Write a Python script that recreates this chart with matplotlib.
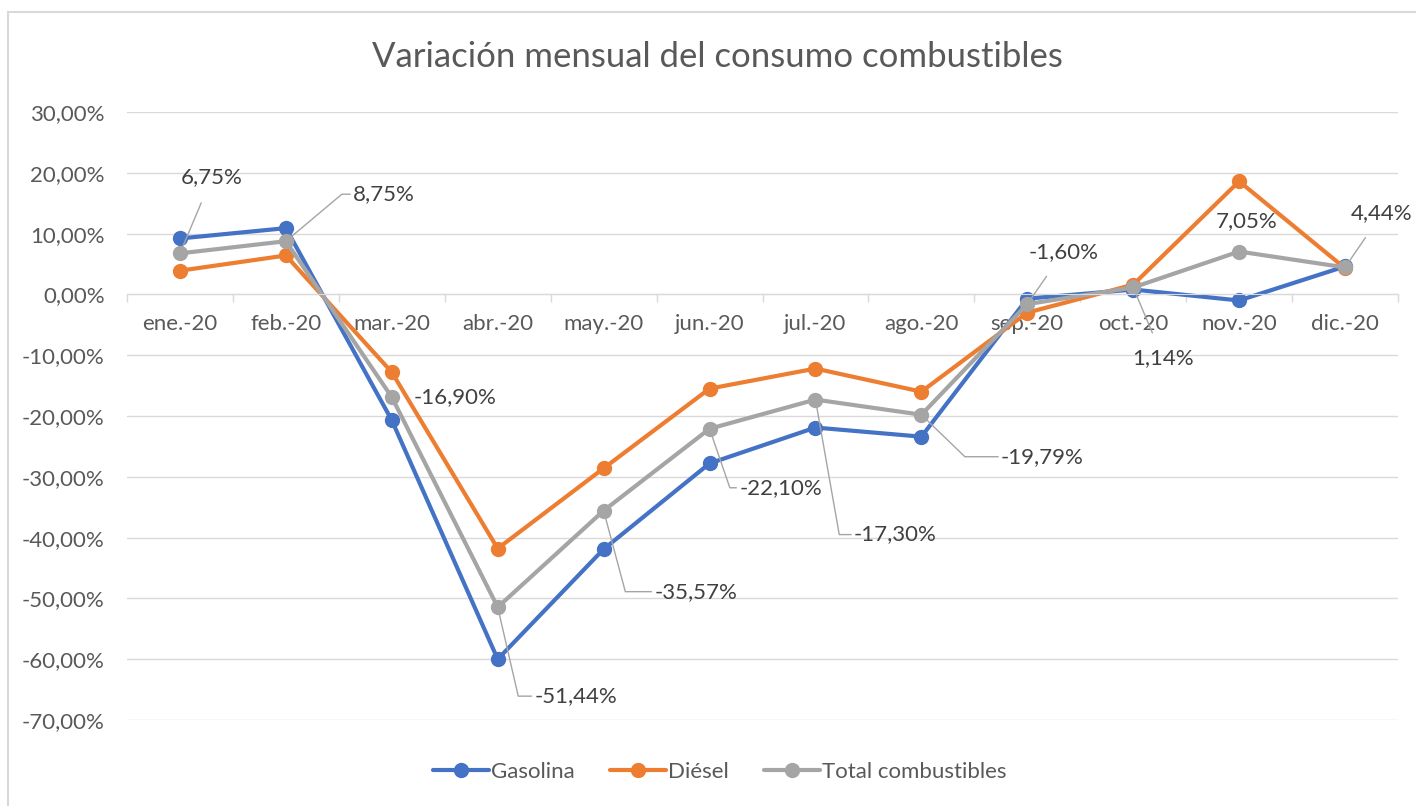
import matplotlib
matplotlib.use("Agg")
import matplotlib.pyplot as plt
from matplotlib.patches import Rectangle

plt.rcParams['font.family'] = ['Lato', 'DejaVu Sans']

meses = ["ene.-20", "feb.-20", "mar.-20", "abr.-20", "may.-20", "jun.-20",
         "jul.-20", "ago.-20", "sep.-20", "oct.-20", "nov.-20", "dic.-20"]
gasolina = [9.2, 10.9, -20.7, -60.0, -41.9, -27.8, -21.9, -23.4, -0.7, 0.8, -1.0, 4.6]
diesel = [3.9, 6.4, -12.8, -41.8, -28.6, -15.5, -12.2, -16.0, -3.0, 1.6, 18.6, 4.3]
total = [6.75, 8.75, -16.90, -51.44, -35.57, -22.10, -17.30, -19.79, -1.60, 1.14, 7.05, 4.44]

# label offsets in pixels (dx, dy, leader angle or None)
offs = [(32, 76, None), (98, 47, 40), (63, 0, 'none'), (78, -89, -77),
        (92, -81, -75), (71, -59, -71), (80, -135, -80), (121, -42, -44),
        (36, 52, None), (30, -71, None), (8, 30, None), (37, 54, None)]

blue, orange, grey = '#4472C4', '#ED7D31', '#A5A5A5'
txt = '#595959'
fs = 16

fig = plt.figure(figsize=(14.16, 8.06), dpi=100)
fig.patches.append(Rectangle((8/1416, -0.1), 1.2, 1 - 12/806 + 0.1, transform=fig.transFigure,
                             fill=False, edgecolor='#d9d9d9', lw=1.5))
ax = fig.add_axes([127/1416, 1 - 720/806, (1398 - 127)/1416, (720 - 112)/806])

x = list(range(len(meses)))
for ys, c, lab in [(gasolina, blue, 'Gasolina'), (diesel, orange, 'Diésel'),
                   (total, grey, 'Total combustibles')]:
    ax.plot(x, ys, color=c, lw=3, marker='o', ms=10, label=lab, solid_capstyle='round')

ax.set_xlim(-0.5, len(meses) - 0.5)
ax.set_ylim(-70, 30)
ax.set_yticks(range(-70, 31, 10))
ax.set_yticklabels([f"{v:,.2f}%".replace('.', ',') for v in range(-70, 31, 10)],
                   fontsize=fs, color=txt)
ax.grid(axis='y', color='#d9d9d9', lw=1)
ax.set_axisbelow(True)
for s in ['top', 'right', 'left']:
    ax.spines[s].set_visible(False)
ax.spines['bottom'].set_position(('data', 0))
ax.spines['bottom'].set_color('#d9d9d9')
ax.tick_params(axis='y', length=0, pad=16)
ax.set_xticks(x)
ax.set_xticklabels(meses, fontsize=fs, color=txt)
ax.tick_params(axis='x', which='major', length=0, pad=14)
ax.set_xticks([i - 0.5 for i in range(len(meses) + 1)], minor=True)
ax.tick_params(axis='x', which='minor', length=6, color='#d9d9d9', width=1)

for i, v in enumerate(total):
    dx, dy, ang = offs[i]
    s = f"{v:.2f}%".replace('.', ',')
    if ang == 'none':
        ax.annotate(s, (i, v), xytext=(dx, dy), textcoords='offset pixels',
                    ha='center', va='center', fontsize=fs, color='#404040')
        continue
    if ang is None:
        ap = dict(arrowstyle='-', color=grey, lw=1, shrinkA=10, shrinkB=0)
    else:
        ap = dict(arrowstyle='-', color=grey, lw=1, shrinkA=0, shrinkB=0,
                  relpos=(0, 0.5) if dx > 0 else (1, 0.5),
                  connectionstyle=f"angle,angleA=0,angleB={ang},rad=0")
    ax.annotate(s, (i, v), xytext=(dx, dy), textcoords='offset pixels',
                ha='center', va='center', fontsize=fs, color='#404040', arrowprops=ap)

fig.suptitle("Variación mensual del consumo combustibles", x=717/1416, y=1 - 57/806,
             va='center', fontsize=25, color=txt)
fig.legend(loc='center', bbox_to_anchor=(720/1416, 1 - 772/806), ncol=3, frameon=False,
           fontsize=fs, labelcolor=txt, handlelength=2.5, columnspacing=1.6, handletextpad=0.1)

fig.savefig("out.png", dpi=100)
